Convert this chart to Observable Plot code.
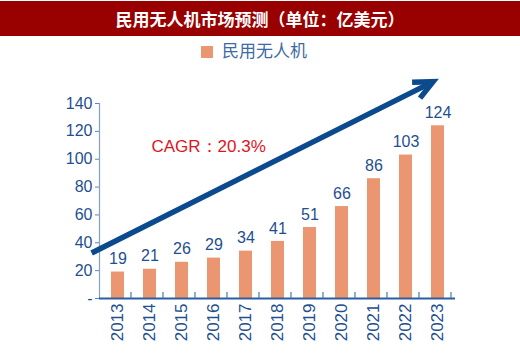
<!DOCTYPE html>
<html><head><meta charset="utf-8">
<script src="https://cdn.jsdelivr.net/npm/d3@7"></script>
<script src="https://cdn.jsdelivr.net/npm/@observablehq/plot@0.6"></script>
<style>
html,body{margin:0;padding:0;background:#fff;width:520px;height:357px;overflow:hidden}
#title{margin-top:1px;height:35px;background:#990000;color:#fff;font-weight:bold;font-size:17px;font-family:"Noto Sans CJK SC",sans-serif;text-align:center;line-height:35px}
#legend{position:relative;height:28px}
#legend .sw{position:absolute;left:201px;top:10px;width:12px;height:12px;background:#EA9670}
#legend .lb{position:absolute;left:222px;top:2px;font-size:17px;line-height:24px;color:#3d6aa6;font-family:"Noto Sans CJK SC",sans-serif}
svg{display:block}
</style></head>
<body>
<div id="title">民用无人机市场预测（单位：亿美元）</div>
<div id="legend"><div class="sw"></div><div class="lb">民用无人机</div></div>
<div id="chart"></div>
<script>
const years = ["2013","2014","2015","2016","2017","2018","2019","2020","2021","2022","2023"];
const values = [19,21,26,29,34,41,51,66,86,103,124];
const yTicks = [0,20,40,60,80,100,120,140];
// trend arrow: fractional year position (band index from 2013 start) and value
const arrowYears = [2012.77, 2023.44];
const arrowValues = [32.3, 155.3];
const cagrLabel = "CAGR：20.3%";
const cagrYear = 2014.64;
const cagrValue = 108;

const data = years.map((y,i)=>({year:y, value:values[i]}));
const blue = "#1f4f90";

const annotation = (index, scales, values_, dims) => {
  const x = scales.x, y = scales.y;
  const step = x("2014") - x("2013");
  const ml = dims.marginLeft;
  const fx = f => ml + (f - 2013) * step;
  const g = d3.create("svg:g");
  const base = y(0);
  for (let i = 1; i <= years.length; i++) {
    g.append("line").attr("x1", ml + i*step).attr("x2", ml + i*step)
      .attr("y1", base).attr("y2", base - 6)
      .attr("stroke", "#4a78b0").attr("stroke-width", 1.2);
  }
  const x1 = fx(arrowYears[0]), y1 = y(arrowValues[0]);
  const x2 = fx(arrowYears[1]), y2 = y(arrowValues[1]);
  const ang = Math.atan2(y1 - y2, x1 - x2);
  const hl = 21, ha = 25 * Math.PI/180;
  g.append("line").attr("x1", x1).attr("y1", y1).attr("x2", x2 - 2*Math.cos(ang+Math.PI)).attr("y2", y2 - 2*Math.sin(ang+Math.PI))
    .attr("stroke", "#0b4a8c").attr("stroke-width", 5.5);
  g.append("path")
    .attr("d", `M${x2 + hl*Math.cos(ang+ha)},${y2 + hl*Math.sin(ang+ha)}L${x2},${y2}L${x2 + hl*Math.cos(ang-ha)},${y2 + hl*Math.sin(ang-ha)}`)
    .attr("fill", "none").attr("stroke", "#0b4a8c").attr("stroke-width", 5.5)
    .attr("stroke-linejoin", "miter").attr("stroke-linecap", "butt");
  g.append("text").attr("x", fx(cagrYear)).attr("y", y(cagrValue))
    .attr("fill", "#e0141e").attr("font-size", 17).attr("font-family", "Liberation Sans, Arial, sans-serif")
    .attr("text-anchor", "start")
    .attr("dominant-baseline", "middle").text(cagrLabel);
  return g.node();
};

const chart = Plot.plot({
  width: 520,
  height: 293,
  marginLeft: 99,
  marginRight: 65,
  marginTop: 39,
  marginBottom: 59,
  style: {fontFamily: "Liberation Sans, Arial, sans-serif", background: "#fff"},
  x: {domain: years, paddingInner: 0.6, paddingOuter: 0.3},
  y: {domain: [0, 140]},
  marks: [
    Plot.barY(data, {x: "year", y: "value", fill: "#EA9670"}),
    Plot.text(data, {x: "year", y: "value", text: d => String(d.value), dy: -13, fill: blue, fontSize: 16}),
    Plot.axisY({ticks: yTicks, tickSize: 4, tickPadding: 3, stroke: "#5c86b8", fill: blue, fontSize: 16, tickFormat: d => d === 0 ? "-" : String(d), label: null}),
    Plot.axisX({tickSize: 0, tickPadding: 5, tickRotate: -90, fill: blue, fontSize: 17, label: null}),
    Plot.frame({anchor: "left", stroke: "#7fa3cc", strokeWidth: 1.2}),
    Plot.ruleY([0], {stroke: "#2e5e9e", strokeWidth: 2}),
    annotation
  ]
});
document.getElementById("chart").appendChild(chart);
</script>
</body></html>
